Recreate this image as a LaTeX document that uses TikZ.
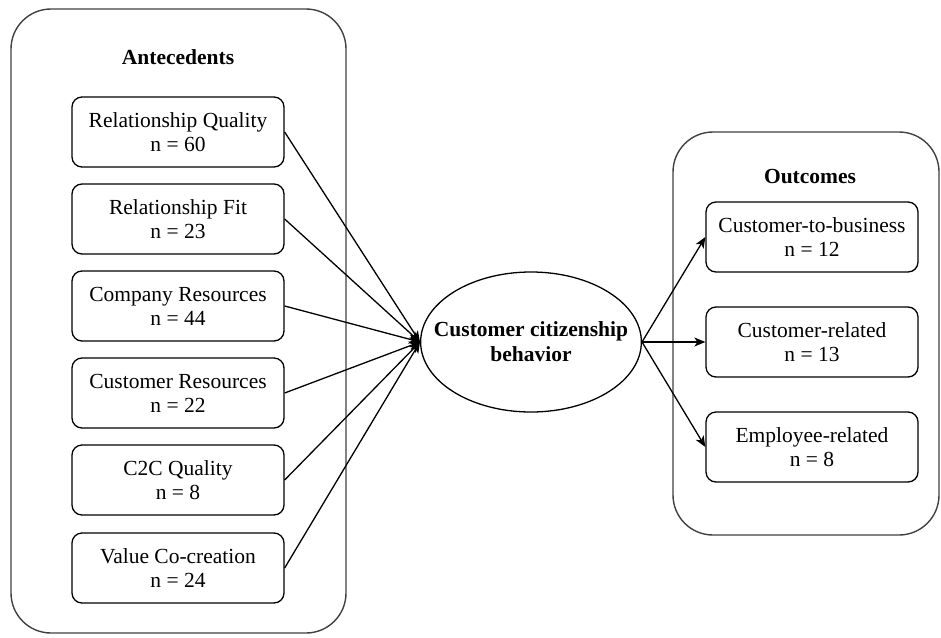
\documentclass[tikz,border=0pt]{standalone}
\usepackage{fontspec}
\setmainfont{Liberation Serif}
\usetikzlibrary{arrows.meta,shapes.geometric}
\begin{document}
\begin{tikzpicture}[x=1pt,y=-1pt,line join=round,
    >={Stealth[length=11pt,width=9pt,inset=3pt]},
    every node/.style={font=\fontsize{21.5}{24}\selectfont},
    group/.style={draw=black!75,line width=1.4pt,rounded corners=40pt},
    itembox/.style={draw,line width=1.3pt,rounded corners=10pt,minimum width=212pt,minimum height=70pt,align=center,inner sep=0pt},
    link/.style={->,line width=1.3pt}]
    \useasboundingbox (0,0) rectangle (941,637);
    % groups
    \draw[group] (11,9) rectangle (346,633);
    \draw[group] (673,132) rectangle (939,535);
    \node[font=\fontsize{21.5}{24}\selectfont\bfseries] (ant) at (178,57) {Antecedents};
    \node[font=\fontsize{21.5}{24}\selectfont\bfseries] (out) at (810,177) {Outcomes};
    % antecedents
    \node[itembox] (rq) at (178,132) {Relationship Quality\\n = 60};
    \node[itembox] (rf) at (178,219) {Relationship Fit\\n = 23};
    \node[itembox] (cr) at (178,306) {Company Resources\\n = 44};
    \node[itembox] (cu) at (178,393) {Customer Resources\\n = 22};
    \node[itembox] (cc) at (178,480) {C2C Quality\\n = 8};
    \node[itembox] (vc) at (178,568) {Value Co-creation\\n = 24};
    % center
    \node[draw,ellipse,line width=1.3pt,minimum width=212pt,minimum height=140pt,inner xsep=-19pt,inner ysep=0pt,align=center,
        font=\fontsize{21.5}{25}\selectfont\bfseries] (ccb) at (531,342) {Customer citizenship\\behavior};
    % outcomes
    \node[itembox] (cb) at (812,237) {Customer-to-business\\n = 12};
    \node[itembox] (crl) at (812,342) {Customer-related\\n = 13};
    \node[itembox] (er) at (812,447) {Employee-related\\n = 8};
    % links
    \foreach \s in {rq,rf,cr,cu,cc,vc}
        \draw[link] (\s.east) -- (ccb.west);
    \foreach \t in {cb,crl,er}
        \draw[link] (ccb.east) -- (\t.west);
\end{tikzpicture}
\end{document}
